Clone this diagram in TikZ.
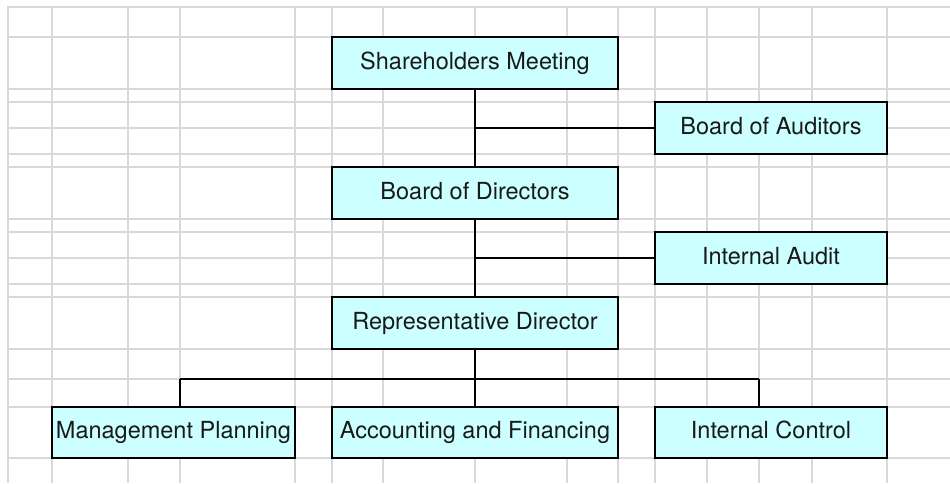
\documentclass[tikz,border=0pt]{standalone}
\usepackage{fontspec}
\setmainfont{TeX Gyre Heros}
\definecolor{gridgray}{HTML}{D9D9D9}
\definecolor{boxfill}{HTML}{CCFFFF}
\tikzset{
  orgbox/.style={draw=black, line width=2pt, fill=boxfill, rectangle, inner sep=0pt,
    font=\fontsize{23.5}{28}\selectfont, text=black!90, text height=17pt, text depth=5pt},
  widebox/.style={orgbox, minimum width=286pt, minimum height=52pt},
  sidebox/.style={orgbox, minimum width=232pt, minimum height=52pt},
  link/.style={draw=black, line width=2pt},
  gridline/.style={draw=gridgray, line width=2pt}
}
\begin{document}
\begin{tikzpicture}[x=1pt,y=-1pt]
\useasboundingbox (0,0) rectangle (950,483);
\fill[white] (0,0) rectangle (950,483);
% spreadsheet grid
\foreach \yy in {7,37,89,102,128,154,167,219,232,258,284,297,349,379,407,458}
  \draw[gridline] (7,\yy) -- (950,\yy);
\foreach \xx in {8,52,128,180,295,332,383,475,567,618,655,707,759,812,887}
  \draw[gridline] (\xx,6) -- (\xx,483);
% boxes
\node[widebox] (sm) at (475,63) {Shareholders Meeting};
\node[sidebox] (ba) at (771,128) {Board of Auditors};
\node[widebox] (bd) at (475,193) {Board of Directors};
\node[sidebox] (ia) at (771,258) {Internal Audit};
\node[widebox] (rd) at (475,323) {Representative Director};
\node[orgbox, minimum width=243pt, minimum height=51pt] (mp) at (173.5,432.5) {Management Planning};
\node[orgbox, minimum width=286pt, minimum height=51pt] (af) at (475,432.5) {Accounting and Financing};
\node[orgbox, minimum width=232pt, minimum height=51pt] (ic) at (771,432.5) {Internal Control};
% connectors
\draw[link] (sm.south) -- (bd.north);
\draw[link] (sm.south |- ba.west) -- (ba.west);
\draw[link] (bd.south) -- (rd.north);
\draw[link] (bd.south |- ia.west) -- (ia.west);
\coordinate (j1) at (180,379);
\coordinate (j2) at (759,379);
\draw[link] (rd.south) -- (af.north);
\draw[link] (j1) -- (j2);
\draw[link] (j1) -- (j1 |- mp.north);
\draw[link] (j2) -- (j2 |- ic.north);
\end{tikzpicture}
\end{document}
